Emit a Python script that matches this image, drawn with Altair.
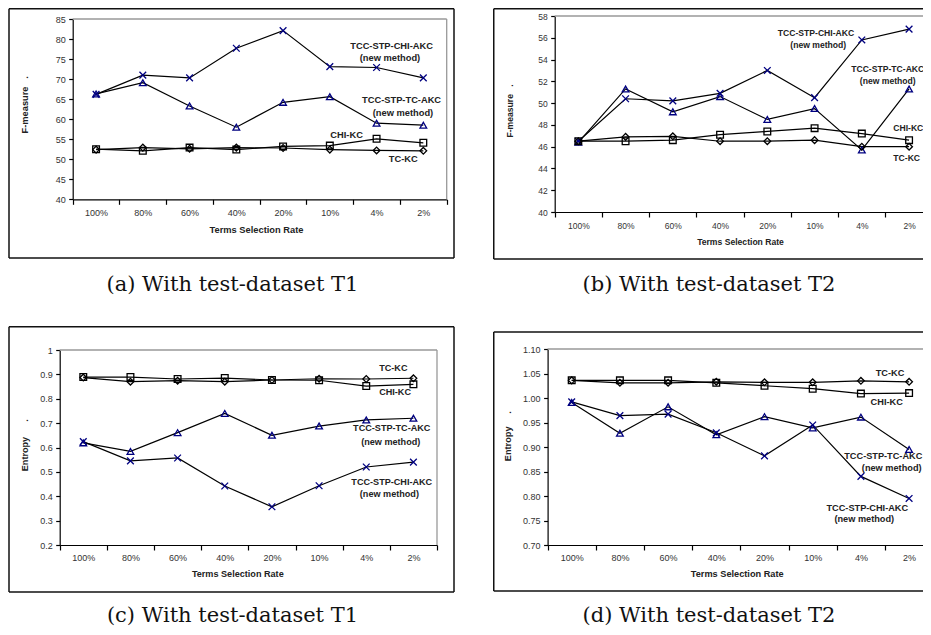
import altair as alt
import pandas as pd

rates = ["100%", "80%", "60%", "40%", "20%", "10%", "4%", "2%"]
series_names = ["TCC-STP-CHI-AKC", "TCC-STP-TC-AKC", "CHI-KC", "TC-KC"]

# (a) F-measure, test-dataset T1
fa_chi_akc = [66.2, 71.0, 70.3, 77.7, 82.1, 73.1, 72.9, 70.3]
fa_tc_akc = [66.3, 69.1, 63.3, 58.0, 64.2, 65.6, 59.0, 58.5]
fa_chi_kc = [52.5, 52.1, 52.9, 52.4, 53.2, 53.4, 55.1, 54.1]
fa_tc_kc = [52.4, 52.9, 52.6, 52.9, 52.8, 52.4, 52.2, 52.1]

# (b) F-measure, test-dataset T2
fb_chi_akc = [46.5, 50.4, 50.2, 50.9, 53.0, 50.5, 55.8, 56.8]
fb_tc_akc = [46.4, 51.3, 49.2, 50.6, 48.5, 49.5, 45.7, 51.3]
fb_chi_kc = [46.5, 46.5, 46.6, 47.1, 47.4, 47.7, 47.2, 46.6]
fb_tc_kc = [46.5, 46.9, 46.95, 46.5, 46.5, 46.6, 46.0, 46.0]

# (c) Entropy, test-dataset T1
ec_chi_akc = [0.624, 0.545, 0.557, 0.442, 0.357, 0.443, 0.520, 0.540]
ec_tc_akc = [0.619, 0.584, 0.661, 0.740, 0.650, 0.688, 0.713, 0.720]
ec_chi_kc = [0.889, 0.889, 0.881, 0.885, 0.877, 0.876, 0.852, 0.859]
ec_tc_kc = [0.887, 0.870, 0.874, 0.870, 0.877, 0.882, 0.881, 0.884]

# (d) Entropy, test-dataset T2
ed_chi_akc = [0.992, 0.964, 0.967, 0.929, 0.882, 0.945, 0.840, 0.795]
ed_tc_akc = [0.991, 0.928, 0.982, 0.925, 0.962, 0.939, 0.961, 0.895]
ed_chi_kc = [1.036, 1.036, 1.036, 1.031, 1.025, 1.019, 1.009, 1.010]
ed_tc_kc = [1.036, 1.031, 1.031, 1.033, 1.032, 1.032, 1.035, 1.033]

ticks_a = [40, 45, 50, 55, 60, 65, 70, 75, 80, 85]
ticks_b = [40, 42, 44, 46, 48, 50, 52, 54, 56, 58]
ticks_c = [0.2, 0.3, 0.4, 0.5, 0.6, 0.7, 0.8, 0.9, 1.0]
ticks_d = [0.70, 0.75, 0.80, 0.85, 0.90, 0.95, 1.00, 1.05, 1.10]

captions = ["(a) With test-dataset T1", "(b) With test-dataset T2",
            "(c) With test-dataset T1", "(d) With test-dataset T2"]

# annotation labels: text, anchor category, value
ann_a = [("TCC-STP-CHI-AKC", "4%", 78.26), ("(new method)", "4%", 75.2),
         ("TCC-STP-TC-AKC", "4%", 64.8), ("(new method)", "4%", 61.5),
         ("CHI-KC", "10%", 56.05), ("TC-KC", "4%", 50.0)]
ann_b = [("TCC-STP-CHI-AKC", "10%", 56.47), ("(new method)", "10%", 55.36),
         ("TCC-STP-TC-AKC", "4%", 53.16), ("(new method)", "4%", 52.03),
         ("CHI-KC", "2%", 47.74), ("TC-KC", "2%", 44.99)]
ann_c = [("TC-KC", "4%", 0.927), ("CHI-KC", "4%", 0.829),
         ("TCC-STP-TC-AKC", "4%", 0.679), ("(new method)", "4%", 0.621),
         ("TCC-STP-CHI-AKC", "4%", 0.460), ("(new method)", "4%", 0.410)]
ann_d = [("TC-KC", "4%", 1.0516), ("CHI-KC", "4%", 0.9924),
         ("TCC-STP-TC-AKC", "4%", 0.8822), ("(new method)", "4%", 0.8578),
         ("TCC-STP-CHI-AKC", "4%", 0.7761), ("(new method)", "4%", 0.7531)]

# ---- styling / layout (pixels) ----
CROSS = "M-1,-1L1,1M-1,1L1,-1"
NAVY = "#000080"
ONE = pd.DataFrame({"k": [0]})


def hrule(x1, x2, y, color, w):
    return alt.Chart(ONE).mark_rule(color=color, strokeWidth=w).encode(
        x=alt.value(x1), x2=alt.value(x2), y=alt.value(y))


def vrule(x, y1, y2, color, w):
    return alt.Chart(ONE).mark_rule(color=color, strokeWidth=w).encode(
        x=alt.value(x), y=alt.value(y1), y2=alt.value(y2))


def panel(series_vals, ticks, fmt, ytitle, caption, ann, ann_dx, cell, plot,
          frame, ytitle_x, ytitle_bottom, xtitle, xlab_pad, fs_ann, fs_tick,
          cap_dx, cap_offset):
    cx, cy, cw, ch = cell
    pl, pt, pr, pb = plot
    L, T, R, B = pl - cx, pt - cy, pr - cx, pb - cy

    rows = []
    for name, vals in zip(series_names, series_vals):
        for r, v in zip(rates, vals):
            rows.append({"rate": r, "value": v, "series": name})
    df = pd.DataFrame(rows)

    xenc = alt.X(
        "rate:N", sort=rates,
        scale=alt.Scale(type="band", domain=rates, range=[L, R], round=False,
                        paddingInner=0, paddingOuter=0),
        axis=alt.Axis(title="Terms Selection Rate", offset=-(ch - B),
                      tickBand="extent", tickSize=5, labelPadding=xlab_pad,
                      labelAngle=0, labelFontSize=fs_tick, labelColor="#333",
                      labelFont="Liberation Sans", domainColor="black",
                      tickColor="black", domainWidth=1.2, tickWidth=1.2,
                      grid=False, titleX=xtitle[0] - cx, titleY=xtitle[1] - pb,
                      titleAlign="center", titleBaseline="middle",
                      titleFont="Liberation Sans", titleFontSize=fs_ann,
                      titleFontWeight="bold", titleColor="#222"))
    yenc = alt.Y(
        "value:Q",
        scale=alt.Scale(domain=[ticks[0], ticks[-1]], range=[B, T],
                        nice=False, zero=False),
        axis=alt.Axis(title=ytitle, offset=-L, values=ticks, format=fmt,
                      tickSize=4, labelPadding=3.5, labelFontSize=fs_tick,
                      labelColor="#333", labelFont="Liberation Sans",
                      domainColor="black", tickColor="black", domainWidth=1.2,
                      tickWidth=1.2, grid=False, titleX=ytitle_x - pl,
                      titleY=ytitle_bottom - cy, titleAngle=270,
                      titleAlign="left", titleBaseline="middle",
                      titleFont="Liberation Sans", titleFontSize=fs_ann,
                      titleFontWeight="bold", titleColor="#222"))

    fl, ft, fr, fb = frame
    fx1 = fl - cx
    fy1 = max(ft - cy, 0.75)
    fy2 = fb - cy
    fx2 = fr - cx
    open_right = fx2 > cw
    xend = cw + 4 if open_right else fx2
    layers = [
        hrule(fx1, xend, fy1, "#111", 1.5),
        hrule(fx1, xend, fy2, "#111", 1.5),
        vrule(fx1, fy1, fy2, "#111", 1.5),
    ]
    if not open_right:
        layers.append(vrule(fx2, fy1, fy2, "#111", 1.5))
    layers.append(hrule(L, R, T, "#999", 1.3))
    if R <= cw:
        layers.append(vrule(R, T, B, "#999", 1.3))

    lines = alt.Chart(df).mark_line(color="black", strokeWidth=1.2).encode(
        x=xenc, y=yenc, detail="series:N")
    points = alt.Chart(df).mark_point(
        filled=False, size=45, strokeWidth=1.3, opacity=1).encode(
        x=xenc, y=yenc,
        shape=alt.Shape("series:N", legend=None, scale=alt.Scale(
            domain=series_names,
            range=[CROSS, "triangle-up", "square", "diamond"])),
        color=alt.Color("series:N", legend=None, scale=alt.Scale(
            domain=series_names, range=[NAVY, NAVY, "black", "black"])))
    layers += [lines, points]

    for (txt, r, v), dx in zip(ann, ann_dx):
        adf = pd.DataFrame({"rate": [r], "value": [v], "label": [txt]})
        layers.append(alt.Chart(adf).mark_text(
            dx=dx, align="center", baseline="middle", font="Liberation Sans",
            fontWeight="bold", fontSize=fs_ann, color="#222").encode(
            x=xenc, y=yenc, text="label:N"))

    return alt.layer(*layers).properties(
        width=cw, height=ch,
        title=alt.TitleParams(caption, orient="bottom", anchor="middle",
                              frame="group",
                              font="DejaVu Serif", fontSize=21,
                              fontWeight="normal", color="#111",
                              baseline="top", offset=cap_offset, dx=cap_dx))


pa = panel([fa_chi_akc, fa_tc_akc, fa_chi_kc, fa_tc_kc], ticks_a, "d",
           "F-measure\u00a0\u00a0\u00a0.", captions[0], ann_a,
           [15, 13.4, 25, 26.4, 16.8, 26.7],
           cell=(8, 8, 447, 252), plot=(72.7, 19, 446.7, 199.3),
           frame=(9, 3, 454, 258), ytitle_x=25, ytitle_bottom=133,
           xtitle=(256, 229.3), xlab_pad=4, fs_ann=9.3, fs_tick=9,
           cap_dx=1, cap_offset=14)
pb = panel([fb_chi_akc, fb_tc_akc, fb_chi_kc, fb_tc_kc], ticks_b, "d",
           "F-measure\u00a0\u00a0\u00a0.", captions[1], ann_b,
           [1.4, 3.7, 25.9, 25.9, -0.8, -2.4],
           cell=(493, 8, 438, 252), plot=(554.7, 16, 932.7, 212),
           frame=(493.75, 1, 960, 259), ytitle_x=509, ytitle_bottom=137,
           xtitle=(740, 241.7), xlab_pad=4, fs_ann=8.6, fs_tick=8.5,
           cap_dx=-3, cap_offset=14)
pc = panel([ec_chi_akc, ec_tc_akc, ec_chi_kc, ec_tc_kc], ticks_c, ".1~f",
           "Entropy\u00a0\u00a0\u00a0\u00a0\u00a0\u00a0.", captions[2], ann_c,
           [27.1, 28.8, 25.5, 24.5, 25.5, 23.1],
           cell=(8, 326, 447, 267), plot=(59.7, 350, 437, 545),
           frame=(9, 326, 454, 592), ytitle_x=24, ytitle_bottom=470.7,
           xtitle=(237.3, 573.3), xlab_pad=3.4, fs_ann=9.1, fs_tick=9,
           cap_dx=1, cap_offset=12)
pd_ = panel([ed_chi_akc, ed_tc_akc, ed_chi_kc, ed_tc_kc], ticks_d, ".2f",
            "Entropy\u00a0\u00a0\u00a0\u00a0\u00a0.", captions[3], ann_d,
            [29.1, 25.8, 22.4, 30.8, 6.4, 3.4],
            cell=(493, 326, 438, 267), plot=(547.6, 349, 933.2, 545),
            frame=(493.75, 332, 960, 591), ytitle_x=507.7, ytitle_bottom=460.7,
            xtitle=(736.7, 573.5), xlab_pad=3.4, fs_ann=9.2, fs_tick=9,
            cap_dx=-3, cap_offset=12)

# the page body is 915px wide: trim the right-hand overflow (the reference
# figure is cut off at its right edge as well)
chart = alt.vconcat(
    alt.hconcat(pa, pb, spacing=38),
    alt.hconcat(pc, pd_, spacing=38),
    spacing=31,
).properties(
    padding={"left": 0, "top": 0, "bottom": 0, "right": -13}
).configure_view(stroke=None)

chart.save("out.html", embed_options={"renderer": "svg", "actions": False})
